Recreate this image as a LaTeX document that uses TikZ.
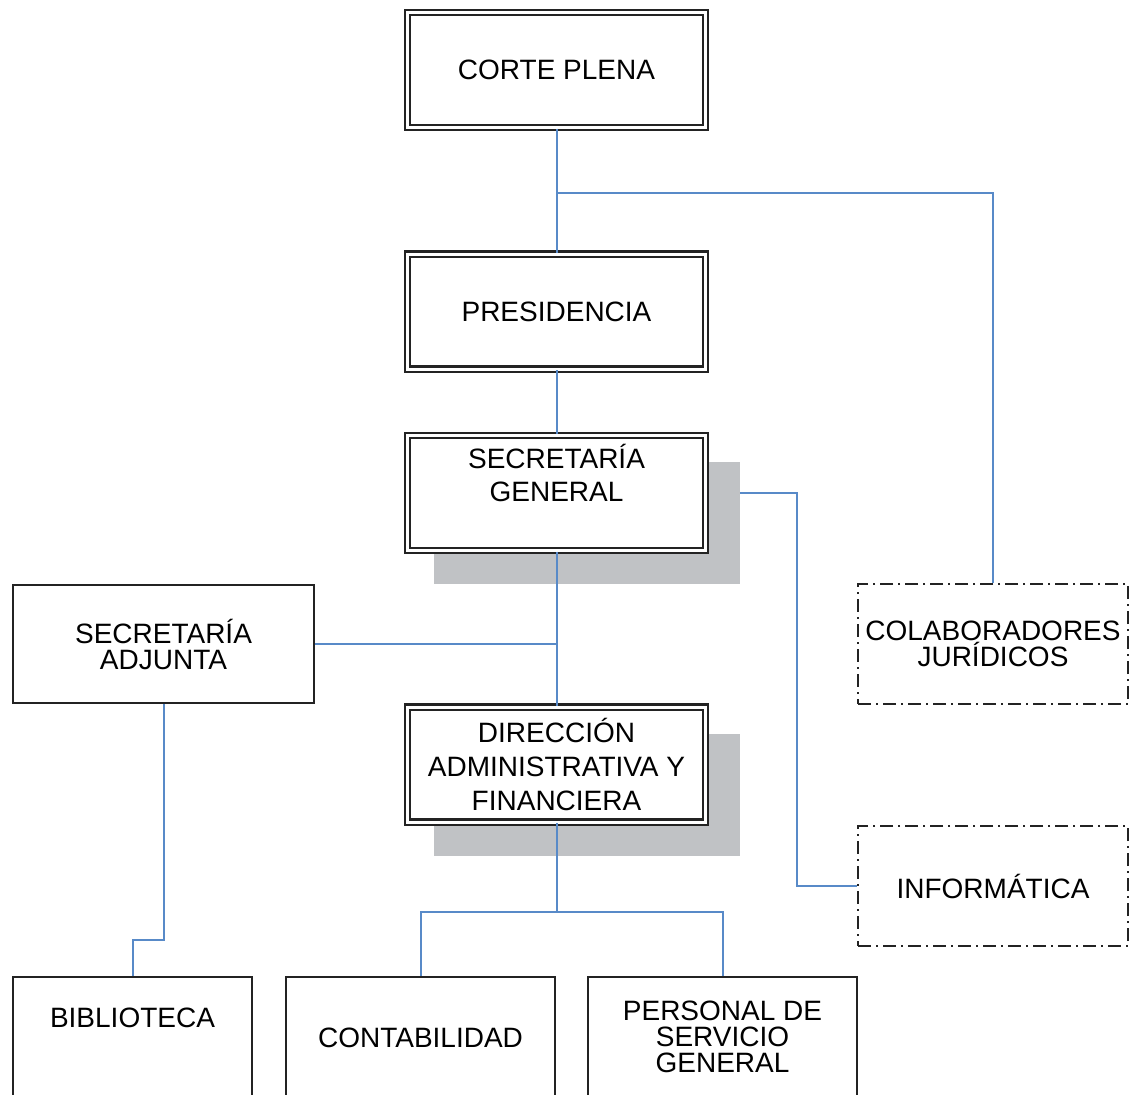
\documentclass[tikz,border=0pt]{standalone}
\usepackage{fontspec}
\setmainfont{Liberation Sans}
\definecolor{conn}{RGB}{88,138,200}
\definecolor{shade}{RGB}{192,194,197}
\definecolor{boxline}{RGB}{35,35,35}
\tikzset{
  dblbox/.style={draw=boxline, line width=2.2pt, double=white, double distance=3pt,
    minimum width=298pt, minimum height=115pt, inner sep=0pt, align=center, fill=white},
  plainbox/.style={draw=boxline, line width=2.2pt, inner sep=0pt, align=center, fill=white},
  dashbox/.style={draw=boxline, line width=2.2pt, dash pattern=on 13pt off 5pt on 2pt off 5pt,
    inner sep=0pt, align=center, minimum width=270pt, minimum height=120pt},
  shadowbox/.style={fill=shade, draw=none, minimum width=306pt, minimum height=122pt, inner sep=0pt},
  txt/.style={inner sep=0pt, align=center},
  conline/.style={draw=conn, line width=2pt},
}
\begin{document}
\begin{tikzpicture}[x=1pt,y=-1pt, font=\fontsize{28}{26}\selectfont]
\clip (0,0) rectangle (1130,1095);
\fill[white] (0,0) rectangle (1130,1095);
% shadows
\node[shadowbox] (sgsh) at (587,523) {};
\node[shadowbox] (dash) at (587,795) {};
% boxes
\node[dblbox] (cp) at (556.5,70) {CORTE PLENA};
\node[dblbox] (pr) at (556.5,311.5) {PRESIDENCIA};
\node[dblbox] (sg) at (556.5,493) {};
\node[dblbox, font=\fontsize{28}{34}\selectfont] (da) at (556.5,764.5) {DIRECCIÓN\\ADMINISTRATIVA Y\\FINANCIERA};
\node[plainbox, minimum width=301pt, minimum height=118pt] (sa) at (163.5,644) {SECRETARÍA\\ADJUNTA};
\node[dashbox] (col) at (993,644) {COLABORADORES\\JURÍDICOS};
\node[dashbox] (inf) at (993,886) {INFORMÁTICA};
\node[plainbox, minimum width=239pt, minimum height=133pt] (bib) at (132.5,1043.5) {};
\node[plainbox, minimum width=269pt, minimum height=133pt] (con) at (420.5,1043.5) {};
\node[plainbox, minimum width=269pt, minimum height=133pt] (per) at (722.5,1043.5) {};
% texts placed off-centre
\node[txt, font=\fontsize{28}{33}\selectfont] (sgt) at (556.5,473) {SECRETARÍA\\GENERAL};
\node[txt] (bibt) at (132.5,1018) {BIBLIOTECA};
\node[txt] (cont) at (420.5,1038) {CONTABILIDAD};
\node[txt, font=\fontsize{28}{26}\selectfont] (pert) at (722.5,1036.5) {PERSONAL DE\\SERVICIO\\GENERAL};
% junctions
\coordinate (j1) at (556.5,193);
\coordinate (j2) at (797,493);
\coordinate (j3) at (163.5,940);
\coordinate (j4) at (556.5,912);
% connectors
\path[conline] (cp.south) -- (pr.north);
\path[conline] (j1) -| (col.north);
\path[conline] (pr.south) -- (sg.north);
\path[conline] (sg.south) -- (da.north);
\path[conline] (sa.east) -- (sa.east -| sg.south);
\path[conline] (sgsh.east |- sg.east) -- (j2) |- (inf.west);
\path[conline] (sa.south) -- (j3) -| (bib.north);
\path[conline] (da.south) -- (j4);
\path[conline] (con.north) |- (j4) -| (per.north);
\end{tikzpicture}
\end{document}
